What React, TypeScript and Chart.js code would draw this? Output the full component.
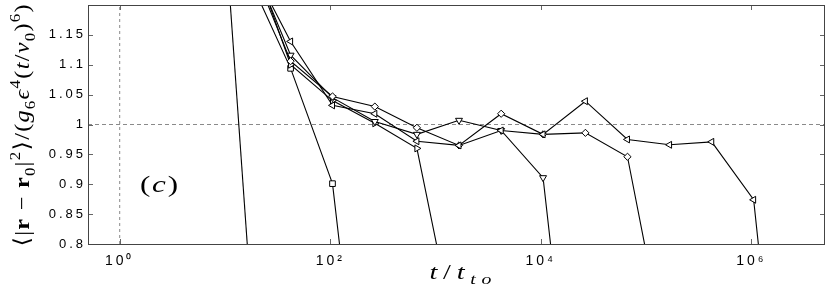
import React, { useEffect, useRef } from 'react';
import { Chart, registerables } from 'chart.js';

Chart.register(...registerables);

// time values t/t_to of the sampled points
const T_VALUES = [6.7, 16.7, 42, 105, 265, 665, 1670, 4200, 10500, 26500, 66500, 167000, 420000, 1050000, 2650000];

// series values (null = no point)
const SERIES_PLAIN = [1.76, 0.772, null, null, null, null, null, null, null, null, null, null, null, null, null];
const SERIES_SQUARE = [null, 1.248, 1.094, 0.901, 0.29, null, null, null, null, null, null, null, null, null, null];
const SERIES_TRI_RIGHT = [null, 1.3, 1.1, 1.04, 1.002, 0.96, 0.616, null, null, null, null, null, null, null, null];
const SERIES_TRI_DOWN = [null, 1.287, 1.116, 1.045, 1.005, 0.9835, 1.007, 0.99, 0.911, 0.283, null, null, null, null, null];
const SERIES_DIAMOND = [null, 1.281, 1.106, 1.047, 1.03, 0.9945, 0.965, 1.018, 0.9835, 0.986, 0.946, 0.586, null, null, null];
const SERIES_TRI_LEFT = [null, 1.275, 1.139, 1.032, 1.018, 0.972, 0.965, 0.99, 0.9835, 1.039, 0.975, 0.966, 0.971, 0.874, 0.208];

const X_TICKS = [1, 100, 10000, 1000000];
const X_TICK_LABELS = ['10⁰', '10²', '10⁴', '10⁶'];
const Y_TICKS = [0.8, 0.85, 0.9, 0.95, 1, 1.05, 1.1, 1.15];
const Y_TICK_LABELS = ['0.8', '0.85', '0.9', '0.95', '1', '1.05', '1.1', '1.15'];

const X_MIN = 0.5;
const X_MAX = 5e6;
const Y_MIN = 0.8;
const Y_MAX = 1.2;
const REF_X = 1;
const REF_Y = 1;

type Seg = { t: string; s?: string; p?: 'sup' | 'sub' };

const SERIF = '"Liberation Serif", "DejaVu Serif", serif';

function segFont(g: Seg, size: number) {
  const fs = g.p ? size * 0.7 : size;
  return `${g.s || 'normal'} ${fs}px ${SERIF}`;
}

function layoutRich(ctx: CanvasRenderingContext2D, segs: Seg[], size: number) {
  let w = 0;
  let n = 0;
  for (const g of segs) {
    ctx.font = segFont(g, size);
    for (const ch of Array.from(g.t)) {
      w += ctx.measureText(ch).width;
      n += 1;
    }
  }
  return { w, n };
}

function drawLabel(
  ctx: CanvasRenderingContext2D,
  segs: Seg[],
  size: number,
  cx: number,
  baseY: number,
  targetW: number,
  rotate: boolean,
  maxScale: number
) {
  ctx.save();
  (ctx as any).letterSpacing = '0px';
  ctx.fillStyle = '#000';
  ctx.textBaseline = 'alphabetic';
  ctx.textAlign = 'left';
  const { w, n } = layoutRich(ctx, segs, size);
  const sx = Math.min(targetW / w, maxScale);
  const inner = targetW / sx;
  const gap = n > 1 ? (inner - w) / (n - 1) : 0;
  if (rotate) {
    ctx.translate(baseY, cx);
    ctx.rotate(-Math.PI / 2);
  } else {
    ctx.translate(cx, baseY);
  }
  ctx.scale(sx, 1);
  let x = -inner / 2;
  for (const g of segs) {
    ctx.font = segFont(g, size);
    const dy = g.p === 'sup' ? -size * 0.42 : g.p === 'sub' ? size * 0.25 : 0;
    for (const ch of Array.from(g.t)) {
      ctx.fillText(ch, x, dy);
      x += ctx.measureText(ch).width + gap;
    }
  }
  ctx.restore();
}

const Y_LABEL: Seg[] = [
  { t: '⟨|' },
  { t: 'r', s: 'bold' },
  { t: ' − ' },
  { t: 'r', s: 'bold' },
  { t: '0', p: 'sub' },
  { t: '|' },
  { t: '2', p: 'sup' },
  { t: '⟩/(' },
  { t: 'g', s: 'italic' },
  { t: '6', p: 'sub' },
  { t: 'ϵ', s: 'italic' },
  { t: '4', p: 'sup' },
  { t: '(' },
  { t: 't', s: 'italic' },
  { t: '/' },
  { t: 'v', s: 'italic' },
  { t: '0', p: 'sub' },
  { t: ')' },
  { t: '6', p: 'sup' },
  { t: ')' },
];

const X_LABEL: Seg[] = [
  { t: 't', s: 'italic' },
  { t: '/' },
  { t: 't', s: 'italic' },
  { t: 'to', s: 'italic', p: 'sub' },
];

const PANEL_LABEL: Seg[] = [{ t: '(' }, { t: 'c', s: 'italic' }, { t: ')' }];

const framePlugin = {
  id: 'frame',
  beforeDraw(chart: any) {
    (chart.ctx as any).letterSpacing = '3px';
  },
  beforeDatasetsDraw(chart: any) {
    (chart.ctx as any).letterSpacing = '0px';
  },
  afterDraw(chart: any) {
    const ctx: CanvasRenderingContext2D = chart.ctx;
    (ctx as any).letterSpacing = '0px';
    const a = chart.chartArea;
    const xs = chart.scales.x;
    const ys = chart.scales.y;
    ctx.save();
    ctx.strokeStyle = '#666';
    ctx.lineWidth = 1;
    ctx.beginPath();
    for (const t of ys.ticks) {
      const py = Math.round(ys.getPixelForValue(t.value)) + 0.5;
      ctx.moveTo(a.left, py);
      ctx.lineTo(a.left + 5, py);
      ctx.moveTo(a.right, py);
      ctx.lineTo(a.right - 5, py);
    }
    for (const t of xs.ticks) {
      const px = Math.round(xs.getPixelForValue(t.value)) + 0.5;
      ctx.moveTo(px, a.bottom);
      ctx.lineTo(px, a.bottom - 5);
      ctx.moveTo(px, a.top);
      ctx.lineTo(px, a.top + 5);
    }
    ctx.stroke();
    ctx.strokeStyle = '#444';
    ctx.strokeRect(Math.round(a.left) + 0.5, Math.round(a.top) + 0.5, Math.round(a.right - a.left) - 1, Math.round(a.bottom - a.top));
    ctx.restore();

    drawLabel(ctx, Y_LABEL, 22, 125.5, 29, 242, true, 1.1);
    drawLabel(ctx, X_LABEL, 21, (a.left + a.right) / 2 + 4, 279, 62, false, 1.35);
    drawLabel(ctx, PANEL_LABEL, 23, 159, 192, 38, false, 1.35);
  },
};

function toPoints(values: (number | null)[]) {
  const pts: { x: number; y: number }[] = [];
  values.forEach((v, i) => {
    if (v !== null) pts.push({ x: T_VALUES[i], y: v });
  });
  return pts;
}

function series(values: (number | null)[], style: string, rotation: number, radius: number) {
  return {
    data: toPoints(values),
    borderColor: '#000',
    borderWidth: 1.1,
    pointStyle: style,
    pointRotation: rotation,
    pointRadius: radius,
    pointBackgroundColor: '#fff',
    pointBorderColor: '#000',
    pointBorderWidth: 1,
    tension: 0,
    clip: 0,
  };
}

export default function App() {
  const ref = useRef<HTMLCanvasElement | null>(null);

  useEffect(() => {
    document.body.style.margin = '0';
    if (!ref.current) return;
    const chart = new Chart(ref.current, {
      type: 'line',
      data: {
        datasets: [
          series(SERIES_TRI_LEFT, 'triangle', -90, 4),
          series(SERIES_DIAMOND, 'rectRot', 0, 3.6),
          series(SERIES_TRI_DOWN, 'triangle', 180, 4),
          series(SERIES_TRI_RIGHT, 'triangle', 90, 4),
          series(SERIES_SQUARE, 'rect', 0, 4),
          series(SERIES_PLAIN, 'circle', 0, 3),
          {
            data: [
              { x: X_MIN, y: REF_Y },
              { x: X_MAX, y: REF_Y },
            ],
            borderColor: '#8a8a8a',
            borderWidth: 1,
            borderDash: [4, 3],
            pointRadius: 0,
            clip: 0,
          },
          {
            data: [
              { x: REF_X, y: Y_MIN },
              { x: REF_X, y: Y_MAX },
            ],
            borderColor: '#8a8a8a',
            borderWidth: 1,
            borderDash: [3, 3],
            pointRadius: 0,
            clip: 0,
          },
        ] as any,
      },
      options: {
        animation: false,
        responsive: true,
        maintainAspectRatio: false,
        layout: { padding: { top: 3, right: 3, left: 0, bottom: 0 } },
        plugins: { legend: { display: false }, tooltip: { enabled: false } },
        events: [],
        scales: {
          x: {
            type: 'logarithmic',
            min: X_MIN,
            max: X_MAX,
            grid: { display: false, drawTicks: false },
            border: { display: false },
            afterBuildTicks: (s: any) => {
              s.ticks = X_TICKS.map((v) => ({ value: v }));
            },
            afterFit: (s: any) => {
              s.height = 40;
              s.paddingLeft = 0;
              s.paddingRight = 0;
            },
            ticks: {
              autoSkip: false,
              maxRotation: 0,
              padding: 9,
              color: '#000',
              font: { family: '"Liberation Sans", Arial, sans-serif', size: 14 },
              callback: (_v: any, i: number) => X_TICK_LABELS[i],
            },
          },
          y: {
            type: 'linear',
            min: Y_MIN,
            max: Y_MAX,
            grid: { display: false, drawTicks: false },
            border: { display: false },
            afterBuildTicks: (s: any) => {
              s.ticks = Y_TICKS.map((v) => ({ value: v }));
            },
            afterFit: (s: any) => {
              s.width = 88;
              s.paddingTop = 0;
              s.paddingBottom = 0;
            },
            ticks: {
              autoSkip: false,
              padding: 2,
              color: '#000',
              font: { family: '"Liberation Sans", Arial, sans-serif', size: 13 },
              callback: (_v: any, i: number) => Y_TICK_LABELS[i],
            },
          },
        },
      } as any,
      plugins: [framePlugin],
    });
    return () => chart.destroy();
  }, []);

  return (
    <div style={{ width: 830, height: 284, position: 'relative' }}>
      <canvas ref={ref} />
    </div>
  );
}
